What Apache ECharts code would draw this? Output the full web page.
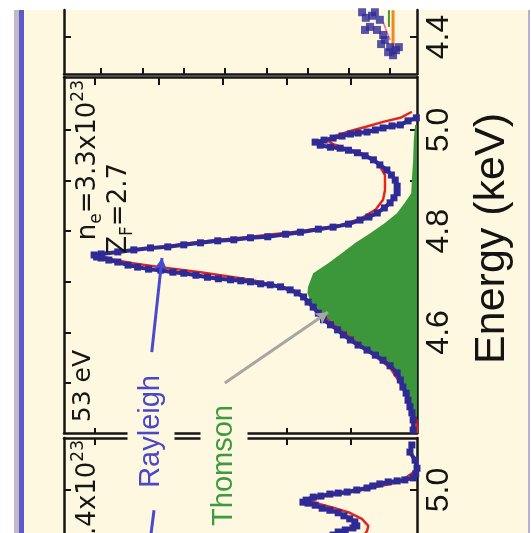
<!DOCTYPE html>
<html>
<head>
<meta charset="utf-8">
<script src="https://cdn.jsdelivr.net/npm/echarts@6/dist/echarts.min.js"></script>
<style>
  html, body { margin: 0; padding: 0; background: #ffffff; width: 531px; height: 533px; overflow: hidden; }
  #wrap { position: relative; width: 531px; height: 533px; overflow: hidden; }
  .band { position: absolute; }
  #chart { position: absolute; left: 0; top: 0; width: 531px; height: 533px; }
</style>
</head>
<body>
<div id="wrap">
  <div class="band" style="left:24px;top:10px;width:504px;height:523px;background:#fef8e1"></div>
  <div class="band" style="left:14px;top:10px;width:5px;height:523px;background:#c3b9c6"></div>
  <div class="band" style="left:19px;top:10px;width:5px;height:523px;background:#5a5ac8"></div>
  <div class="band" style="left:528px;top:10px;width:2px;height:523px;background:#b8aed6"></div>
  <div id="chart"></div>
</div>
<script>
// ---- Middle spectrum (n_e = 3.3e23, Z_F = 2.7): energy in keV, intensity in arb. units ----
const midEnergy = [5.024,5.018,5.010,5.008,5.004,5.000,4.996,4.994,4.992,4.988,4.984,4.980,4.976,4.970,4.966,4.964,4.960,4.955,4.949,4.941,4.931,4.921,4.911,4.901,4.889,4.876,4.866,4.856,4.846,4.836,4.828,4.822,4.814,4.808,4.804,4.798,4.794,4.789,4.787,4.783,4.781,4.777,4.773,4.769,4.767,4.763,4.759,4.755,4.753,4.749,4.747,4.743,4.739,4.733,4.729,4.725,4.723,4.719,4.717,4.713,4.709,4.706,4.704,4.702,4.700,4.696,4.694,4.690,4.684,4.678,4.670,4.660,4.650,4.638,4.625,4.615,4.605,4.595,4.585,4.575,4.565,4.555,4.545,4.534,4.520,4.506,4.492,4.480,4.466,4.453,4.441,4.427,4.407];
const midMeasured = [-0.02,0.11,0.23,0.36,0.50,0.62,0.75,0.89,1.01,1.14,1.28,1.42,1.56,1.48,1.32,1.17,1.04,0.90,0.78,0.65,0.55,0.44,0.37,0.31,0.28,0.28,0.33,0.39,0.48,0.59,0.72,0.86,1.04,1.28,1.51,1.79,2.02,2.30,2.57,2.83,3.08,3.35,3.61,3.86,4.13,4.39,4.64,4.90,5.01,4.97,4.90,4.78,4.64,4.48,4.33,4.16,3.97,3.78,3.61,3.42,3.24,3.07,2.88,2.72,2.57,2.41,2.26,2.10,1.95,1.84,1.74,1.67,1.59,1.51,1.43,1.32,1.21,1.12,1.01,0.89,0.75,0.62,0.50,0.39,0.28,0.23,0.19,0.14,0.11,0.08,0.05,0.03,0.03];

const midFitEnergy = [5.036,5.024,5.016,5.006,4.998,4.988,4.980,4.972,4.962,4.951,4.935,4.911,4.881,4.862,4.842,4.824,4.812,4.800,4.789,4.779,4.767,4.759,4.753,4.745,4.737,4.729,4.719,4.704,4.686,4.668,4.640,4.605,4.565,4.530,4.486,4.447,4.427,4.401];
const midFit = [0.05,0.23,0.50,0.78,1.01,1.25,1.37,1.28,1.04,0.78,0.58,0.47,0.47,0.50,0.62,0.86,1.17,1.79,2.57,3.35,4.12,4.67,4.93,4.75,4.44,3.97,3.35,2.57,1.95,1.71,1.51,1.17,0.75,0.39,0.16,0.05,-0.02,-0.03];

const midThomsonEnergy = [5.010,4.980,4.941,4.901,4.875,4.856,4.836,4.816,4.796,4.777,4.757,4.737,4.717,4.690,4.678,4.660,4.646,4.625,4.605,4.585,4.565,4.545,4.520,4.494,4.470,4.447,4.417,4.401];
const midThomson = [0.00,0.02,0.03,0.05,0.06,0.16,0.28,0.47,0.70,0.93,1.14,1.35,1.59,1.67,1.68,1.63,1.56,1.43,1.21,1.01,0.75,0.50,0.28,0.19,0.11,0.06,0.03,0.02];

// ---- Lower spectrum (next density) ----
const lowEnergy = [5.089,5.075,5.059,5.043,5.032,5.024,5.020,5.018,5.016,5.012,5.008,5.004,5.000,4.996,4.994,4.992,4.988,4.986,4.980,4.976,4.974,4.970,4.964,4.960,4.955,4.949,4.943,4.937,4.929,4.925,4.921,4.917,4.911];
const lowMeasured = [0.05,0.08,0.00,-0.03,-0.01,0.03,0.16,0.28,0.42,0.55,0.66,0.75,0.91,1.06,1.20,1.33,1.47,1.59,1.70,1.75,1.67,1.56,1.45,1.33,1.20,1.11,1.02,0.94,0.91,0.97,1.09,1.20,1.28];
const lowFitEnergy = [5.063,5.040,5.016,5.010,5.002,4.994,4.986,4.978,4.972,4.964,4.955,4.943,4.929,4.919,4.905];
const lowFit = [-0.03,-0.03,0.24,0.47,0.75,1.06,1.48,1.64,1.48,1.25,1.02,0.83,0.73,0.75,0.83];

// ---- Upper spectrum (previous density), low-energy tail only ----
const upEnergy = [4.449,4.449,4.442,4.438,4.434,4.420,4.414,4.414,4.404,4.394,4.386,4.380,4.374,4.380,4.370,4.364];
const upMeasured = [0.37,0.68,0.44,0.59,0.25,0.49,0.61,0.32,0.17,0.13,0.22,0.00,-0.14,-0.21,0.05,-0.07];
const upFitEnergy = [4.430,4.414,4.394];
const upFit = [0.17,0.10,0.00];
const upOrangeEnergy = [4.453,4.362];
const upOrange = [-0.07,-0.07];
const upGreenEnergy = [4.453,4.420];
const upGreen = [0.03,0.03];

// ---- Axis ticks ----
const midEnergyTicks = [4.5,4.6,4.7,4.8,4.9,5.0];
const midEnergyLabels = [4.6,4.8,5.0];
const upEnergyTicks = [4.4];
const lowEnergyTicks = [5.0];
const intensityTicks = [1,2,3,4,5];
const upIntensityTicks = [0,1,2,3,4,5,6,7];

const I_MIN = -0.03;
const pairs = (xs, es) => xs.map((v, i) => [v, es[i]]);

const AX = '#151515';
const BLUE = '#2e2a96';
const RED = '#e3261d';
const GREEN = '#3c963a';

function xAx(grid, pos, min, max, ticks, len) {
  return {
    type: 'value', gridIndex: grid, position: pos, min: min, max: max, inverse: true,
    axisLine: { show: true, onZero: false, lineStyle: { color: AX, width: 2.5 } },
    axisTick: { show: true, inside: true, length: len, customValues: ticks, lineStyle: { color: AX, width: 2 } },
    axisLabel: { show: false }, splitLine: { show: false }
  };
}
function yAx(grid, pos, min, max, ticks, labels) {
  return {
    type: 'value', gridIndex: grid, position: pos, min: min, max: max,
    axisLine: { show: true, onZero: false, lineStyle: { color: AX, width: 2.5 } },
    axisTick: { show: true, inside: true, length: 7, customValues: ticks, lineStyle: { color: AX, width: 2 } },
    axisLabel: labels ? {
      show: true, customValues: labels, rotate: 90, margin: 6,
      fontSize: 32, fontFamily: 'Liberation Sans', color: '#141414',
      formatter: v => Number(v).toFixed(1)
    } : { show: false },
    splitLine: { show: false }
  };
}

const richNote = {
  b: { fontFamily: 'DejaVu Sans', fontSize: 26, lineHeight: 35, verticalAlign: 'middle', fill: '#161616' },
  s: { fontFamily: 'DejaVu Sans', fontSize: 17, lineHeight: 17, verticalAlign: 'bottom', fill: '#161616' },
  p: { fontFamily: 'DejaVu Sans', fontSize: 17, lineHeight: 17, verticalAlign: 'top', fill: '#161616' }
};

function thomsonArea(params, api) {
  if (params.dataIndex !== 0) return null;
  const n = midThomsonEnergy.length;
  const pts = [api.coord([I_MIN, midThomsonEnergy[0]])];
  for (let i = 0; i < n; i++) pts.push(api.coord([midThomson[i], midThomsonEnergy[i]]));
  pts.push(api.coord([I_MIN, midThomsonEnergy[n - 1]]));
  return { type: 'polygon', shape: { points: pts }, style: { fill: GREEN } };
}

const gridBase = { outerBoundsMode: 'none', containLabel: false };

const chart = echarts.init(document.getElementById('chart'), null, { renderer: 'canvas' });
chart.setOption({
  animation: false,
  backgroundColor: 'transparent',
  grid: [
    Object.assign({ left: 64, top: 10, width: 353, height: 64 }, gridBase),
    Object.assign({ left: 64, top: 77, width: 353, height: 356 }, gridBase),
    Object.assign({ left: 64, top: 438, width: 353, height: 162 }, gridBase)
  ],
  xAxis: [
    xAx(0, 'bottom', -0.65, 7.9, upIntensityTicks, 6),
    xAx(1, 'top', I_MIN, 5.48, intensityTicks, 8),
    xAx(1, 'bottom', I_MIN, 5.48, intensityTicks, 5),
    xAx(2, 'top', I_MIN, 5.48, intensityTicks, 7)
  ],
  yAxis: [
    yAx(0, 'left', 4.3269, 4.4534, upEnergyTicks, null),
    yAx(0, 'right', 4.3269, 4.4534, upEnergyTicks, upEnergyTicks),
    yAx(1, 'left', 4.4012, 5.1047, midEnergyTicks, null),
    yAx(1, 'right', 4.4012, 5.1047, midEnergyTicks, midEnergyLabels),
    yAx(2, 'left', 4.7826, 5.1028, lowEnergyTicks, null),
    yAx(2, 'right', 4.7826, 5.1028, lowEnergyTicks, lowEnergyTicks)
  ],
  series: [
    // upper panel
    { type: 'line', xAxisIndex: 0, yAxisIndex: 0, data: pairs(upGreen, upGreenEnergy), showSymbol: false, lineStyle: { color: GREEN, width: 2 }, z: 2 },
    { type: 'line', xAxisIndex: 0, yAxisIndex: 0, data: pairs(upOrange, upOrangeEnergy), showSymbol: false, lineStyle: { color: '#f08a1c', width: 3 }, z: 2 },
    { type: 'line', xAxisIndex: 0, yAxisIndex: 0, data: pairs(upFit, upFitEnergy), showSymbol: false, lineStyle: { color: '#f06a9a', width: 1.5 }, z: 2 },
    { type: 'scatter', xAxisIndex: 0, yAxisIndex: 0, data: pairs(upMeasured, upEnergy), symbol: 'rect', symbolSize: 8, itemStyle: { color: BLUE }, z: 3 },
    // middle panel
    { type: 'custom', xAxisIndex: 1, yAxisIndex: 2, data: pairs(midThomson, midThomsonEnergy), renderItem: thomsonArea, clip: true, z: 1 },
    {
      type: 'line', xAxisIndex: 1, yAxisIndex: 2, data: pairs(midFit, midFitEnergy), showSymbol: false,
      lineStyle: { color: RED, width: 2.5 }, z: 2,
      markLine: {
        silent: true, symbol: ['none', 'arrow'], symbolSize: [10, 12], label: { show: false },
        data: [
          [{ coord: [4.11, 4.561], lineStyle: { color: '#4a4ad0', width: 3, type: 'solid' } }, { coord: [3.95, 4.747] }],
          [{ coord: [2.97, 4.500], lineStyle: { color: '#a8a6a2', width: 3, type: 'solid' } }, { coord: [1.36, 4.640] }]
        ]
      }
    },
    {
      type: 'line', xAxisIndex: 1, yAxisIndex: 2, data: pairs(midMeasured, midEnergy),
      showSymbol: true, showAllSymbol: true, symbol: 'rect', symbolSize: 7,
      itemStyle: { color: BLUE }, lineStyle: { color: BLUE, width: 4 }, z: 3
    },
    // lower panel
    {
      type: 'line', xAxisIndex: 3, yAxisIndex: 4, data: pairs(lowFit, lowFitEnergy), showSymbol: false,
      lineStyle: { color: RED, width: 2.5 }, z: 2,
      markLine: {
        silent: true, symbol: ['none', 'none'], label: { show: false },
        data: [[{ coord: [4.075, 4.960], lineStyle: { color: '#4a4ad0', width: 3, type: 'solid' } }, { coord: [4.14, 4.895] }]]
      }
    },
    {
      type: 'line', xAxisIndex: 3, yAxisIndex: 4, data: pairs(lowMeasured, lowEnergy),
      showSymbol: true, showAllSymbol: true, symbol: 'rect', symbolSize: 7,
      itemStyle: { color: BLUE }, lineStyle: { color: BLUE, width: 4 }, z: 3
    }
  ],
  graphic: [
    { type: 'text', x: 88, y: 80, rotation: Math.PI / 2, z: 100,
      style: { text: '{b|n}{s|e}{b|=3.3x10}{p|23}', rich: richNote, align: 'right', verticalAlign: 'middle' } },
    { type: 'text', x: 119, y: 163, rotation: Math.PI / 2, z: 100,
      style: { text: '{b|Z}{s|F}{b|=2.7}', rich: richNote, align: 'right', verticalAlign: 'middle' } },
    { type: 'text', x: 83, y: 350, rotation: Math.PI / 2, z: 100,
      style: { text: '53 eV', fontFamily: 'DejaVu Sans', fontSize: 25, fill: '#161616', align: 'right', verticalAlign: 'middle' } },
    { type: 'text', x: 88, y: 440, rotation: Math.PI / 2, z: 100,
      style: { text: '{b|n}{s|e}{b|=1.4x10}{p|23}', rich: richNote, align: 'right', verticalAlign: 'middle' } },
    { type: 'text', x: 151, y: 372, rotation: Math.PI / 2, z: 100,
      style: { text: 'Rayleigh', fontFamily: 'Liberation Sans', fontSize: 29, fill: '#4848c8', align: 'right', verticalAlign: 'middle',
               backgroundColor: '#fef8e1', padding: [9, 3, 9, 3] } },
    { type: 'text', x: 224, y: 402, rotation: Math.PI / 2, z: 100,
      style: { text: 'Thomson', fontFamily: 'Liberation Sans', fontSize: 29, fill: '#3e9a3c', align: 'right', verticalAlign: 'middle',
               backgroundColor: '#fef8e1', padding: [9, 3, 9, 3] } },
    { type: 'text', x: 492, y: 113, rotation: Math.PI / 2, z: 100,
      style: { text: 'Energy (keV)', fontFamily: 'Liberation Sans', fontSize: 43, fill: '#141414', align: 'right', verticalAlign: 'middle' } }
  ]
});
</script>
</body>
</html>
